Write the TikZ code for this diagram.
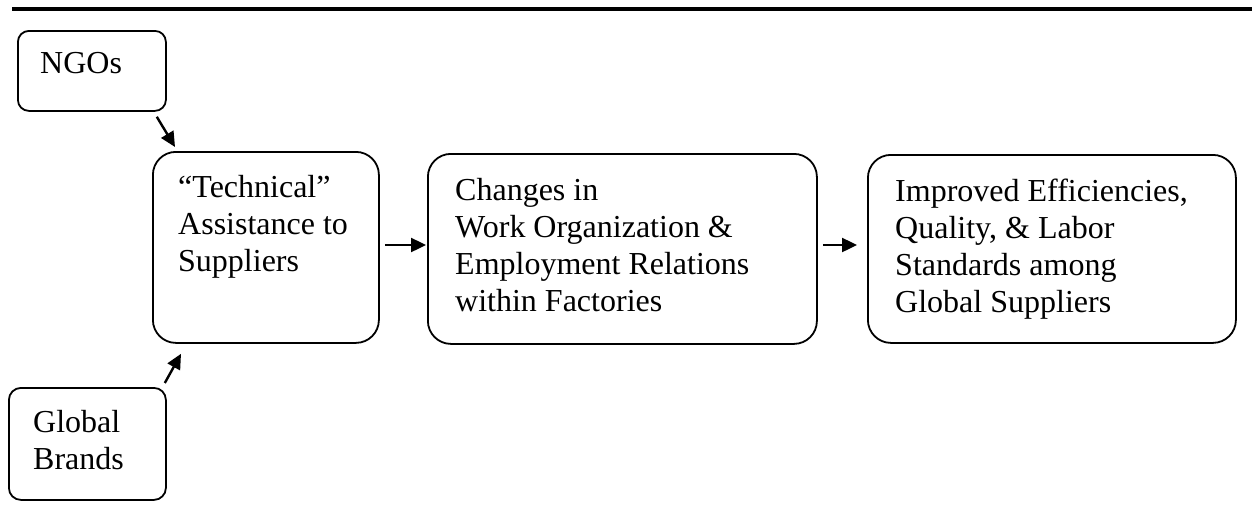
\documentclass[tikz,border=0pt]{standalone}
\usepackage{fontspec}
\setmainfont{Liberation Serif}
\usetikzlibrary{arrows.meta}
\tikzset{
  box/.style={draw, line width=1.8pt, rectangle, anchor=north west, inner sep=0pt},
  txt/.style={anchor=base west, inner sep=0pt, font=\fontsize{32}{37}\selectfont},
  arr/.style={line width=2.4pt, -{Triangle[length=15pt,width=14pt]}}
}
\begin{document}
\begin{tikzpicture}[x=1pt,y=-1pt]
\useasboundingbox (0,0) rectangle (1252,514);
\draw[line width=4pt] (12,9) -- (1252,9);
\node[box, rounded corners=11pt, minimum width=148pt, minimum height=80pt] (ngo) at (17,30) {};
\node[box, rounded corners=23pt, minimum width=226pt, minimum height=191pt] (tech) at (152,151) {};
\node[box, rounded corners=23pt, minimum width=389pt, minimum height=190pt] (chg) at (427,153) {};
\node[box, rounded corners=23pt, minimum width=368pt, minimum height=188pt] (imp) at (867,154) {};
\node[box, rounded corners=12pt, minimum width=157pt, minimum height=112pt] (gb) at (8,387) {};
\node[txt] (ngot) at (40,73) {NGOs};
\node[txt] (techt) at (178,197) {\begin{tabular}[t]{@{}l@{}}“Technical”\\Assistance to\\Suppliers\end{tabular}};
\node[txt] (chgt) at (455,200) {\begin{tabular}[t]{@{}l@{}}Changes in\\Work Organization \&\\Employment Relations\\within Factories\end{tabular}};
\node[txt] (impt) at (895,201) {\begin{tabular}[t]{@{}l@{}}Improved Efficiencies,\\Quality, \& Labor\\Standards among\\Global Suppliers\end{tabular}};
\node[txt] (gbt) at (33,432) {\begin{tabular}[t]{@{}l@{}}Global\\Brands\end{tabular}};
\draw[arr] ([xshift=-10pt,yshift=-5pt]ngo.south east) -- ([xshift=23pt,yshift=4pt]tech.north west);
\draw[arr] ([xshift=-2pt,yshift=4pt]gb.north east) -- ([xshift=29pt,yshift=-10pt]tech.south west);
\draw[arr] ([xshift=5pt]tech.east |- 0,245) -- ([xshift=-1pt]chg.west |- 0,245);
\draw[arr] ([xshift=5pt]chg.east |- 0,245) -- ([xshift=-10pt]imp.west |- 0,245);
\end{tikzpicture}
\end{document}
